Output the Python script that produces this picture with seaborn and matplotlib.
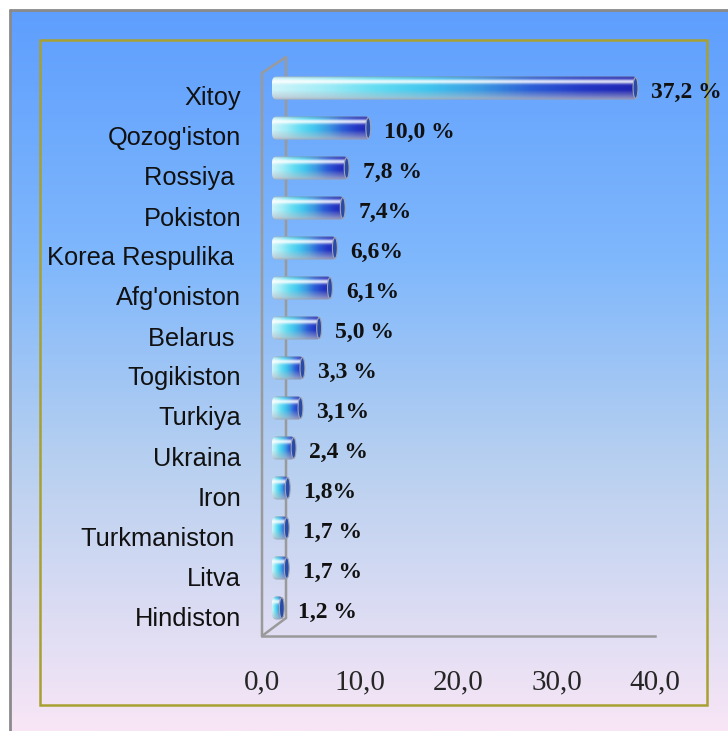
import seaborn as sns
import matplotlib.pyplot as plt
import matplotlib.transforms as mtransforms
from matplotlib.colors import LinearSegmentedColormap, to_rgb
from matplotlib.patches import FancyBboxPatch, Rectangle, Ellipse
import pandas as pd
import numpy as np

# Data
countries = ["Xitoy", "Qozog'iston", "Rossiya ", "Pokiston", "Korea Respulika ",
             "Afg'oniston", "Belarus ", "Togikiston", "Turkiya", "Ukraina",
             "Iron", "Turkmaniston ", "Litva", "Hindiston"]
shares = [37.2, 10.0, 7.8, 7.4, 6.6, 6.1, 5.0, 3.3, 3.1, 2.4, 1.8, 1.7, 1.7, 1.2]
value_labels = ["37,2 %", "10,0 %", "7,8 %", "7,4%", "6,6%", "6,1%", "5,0 %",
                "3,3 %", "3,1%", "2,4 %", "1,8%", "1,7 %", "1,7 %", "1,2 %"]
x_ticks = [0, 10, 20, 30, 40]
x_tick_labels = ["0,0", "10,0", "20,0", "30,0", "40,0"]

df = pd.DataFrame({"country": countries, "share": shares})

sns.set_style("white")

W, H = 728, 731
fig = plt.figure(figsize=(W / 100, H / 100), dpi=100)

# background gradient (blue top -> pink bottom)
bg = fig.add_axes([0, 0, 1, 1])
bg.set_axis_off()
bg.set_xlim(0, W)
bg.set_ylim(H, 0)
stops = [(0.0, "#5e9efe"), (0.35, "#80b8fc"), (0.63, "#b8d0f0"), (1.0, "#f8e6f6")]
bg_cmap = LinearSegmentedColormap.from_list("bg", stops)
grad = np.linspace(0, 1, 256).reshape(-1, 1)
bg.imshow(grad, cmap=bg_cmap, aspect="auto", extent=(10, W, H, 10), zorder=0)
bg.plot([10, W], [10, 10], color="#8a8a8a", lw=2, zorder=1)
bg.plot([10, 10], [10, H], color="#8a8a8a", lw=2, zorder=1)
bg.add_patch(Rectangle((40, 40), 667, 665, fill=False, edgecolor="#a8a030", lw=1.8, zorder=1))

# 3D wall lines
wall = "#9a9a9a"
bg.plot([262, 262, 286, 286], [636, 73, 57, 618], color=wall, lw=1.8, zorder=1)
bg.plot([262, 286], [636, 618], color=wall, lw=1.8, zorder=1)

# main axes: x=0 at 262px, x=40 at 655px; categories between 76px and 636px
ax = fig.add_axes([262 / W, 1 - 636 / H, (655 - 262) / W, 560 / H])
ax.patch.set_alpha(0)
sns.barplot(data=df, x="share", y="country", orient="h", color="#3050d0",
            width=0.58, ax=ax)
ax.set_xlim(0, 40)
ax.set_xlabel("")
ax.set_ylabel("")
for s in ["top", "right", "left"]:
    ax.spines[s].set_visible(False)
ax.spines["bottom"].set_color(wall)
ax.spines["bottom"].set_linewidth(1.8)
ax.set_xticks(x_ticks)
ax.set_xticklabels(x_tick_labels, family="Liberation Serif", fontsize=21)
ax.tick_params(axis="x", length=0, pad=24)
ax.tick_params(axis="y", length=0, pad=15)
for t in ax.get_yticklabels():
    t.set_family("Liberation Sans")
    t.set_fontsize(18.3)
    t.set_color("#111111")

# depth offset: bars drawn on the back plane
depth = mtransforms.ScaledTranslation(10 / 100, 8 / 100, fig.dpi_scale_trans)
tr = ax.transData + depth

# gradient texture for cylinder bars
bar_cmap = LinearSegmentedColormap.from_list(
    "bar", ["#d0f4fa", "#a0ecf6", "#62dcf2", "#40c4ee", "#3a98e2", "#2a5cd6",
            "#2235c4", "#1f22b0"])
cols = bar_cmap(np.linspace(0, 1, 200))[:, :3]
t = np.linspace(0, 1, 30)[:, None, None]
white = np.ones(3)
grey = np.array(to_rgb("#b8bcc8"))
hl = 0.85 * np.exp(-((t - 0.22) / 0.1) ** 2)
low = np.clip((t - 0.58) / 0.42, 0, 1) * 0.8
edge = np.clip((0.08 - t) / 0.08, 0, 1) * 0.6 + np.clip((t - 0.9) / 0.1, 0, 1) * 0.35
tex = cols[None, :, :] * (1 - hl) + white * hl
tex = tex * (1 - low) + grey * low
tex = tex * (1 - edge) + np.array([0.55, 0.55, 0.6]) * edge
tex = np.clip(tex, 0, 1)

for p, lab in zip(list(ax.patches), value_labels):
    x0, y0 = p.get_x(), p.get_y()
    w, h = p.get_width(), p.get_height()
    p.set_visible(False)
    rx = min(0.5, w / 2)
    box = FancyBboxPatch((x0, y0), w, h,
                         boxstyle=f"round,pad=0,rounding_size={rx}",
                         mutation_aspect=0.3, transform=tr,
                         facecolor="none", edgecolor="none")
    ax.add_patch(box)
    im = ax.imshow(tex, extent=(x0, x0 + w, y0 + h, y0), aspect="auto",
                   interpolation="bilinear", zorder=2)
    im.set_transform(tr)
    im.set_clip_path(box)
    cap = Ellipse((x0 + w - 0.2, y0 + h / 2), 0.5, h * 0.9, transform=tr,
                  facecolor="#2a4aa8", edgecolor="#a0a6b4", lw=0.8, zorder=3)
    ax.add_patch(cap)
    ax.annotate(lab, (x0 + w, y0 + h / 2), xycoords=tr,
                xytext=(10, -3.5), textcoords="offset points",
                ha="left", va="center", family="Liberation Serif",
                fontweight="bold", fontsize=17, color="#111111",
                annotation_clip=False)

ax.set_ylim(13.5, -0.5)

fig.savefig("out.png", dpi=100)
